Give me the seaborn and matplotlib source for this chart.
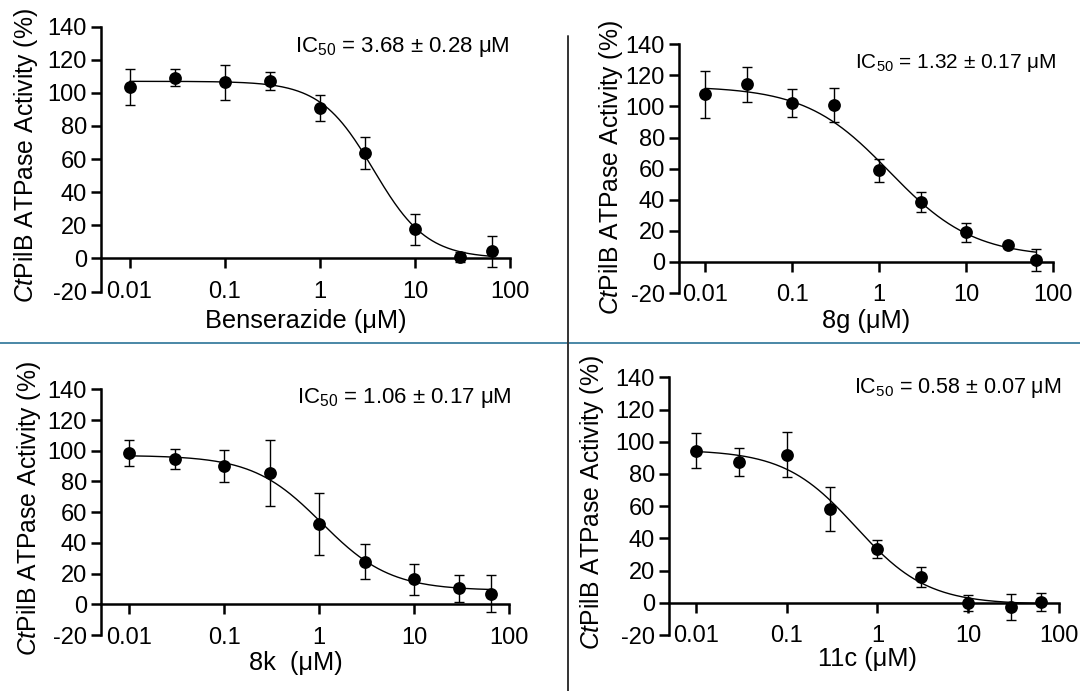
import matplotlib
matplotlib.use("Agg")
import numpy as np
import pandas as pd
import matplotlib.pyplot as plt
import seaborn as sns
from matplotlib.lines import Line2D
from matplotlib.ticker import FixedLocator, FixedFormatter, NullLocator

# ------------------------------------------------------------
# Data
# ------------------------------------------------------------
conc_um = [0.01, 0.03, 0.1, 0.3, 1, 3, 10, 30, 64]

benserazide_mean = [103.5, 109.3, 106.5, 107.0, 91.0, 63.8, 17.6, 0.6, 4.2]
benserazide_sem = [11.0, 5.0, 10.5, 5.5, 8.0, 9.7, 9.5, 3.0, 9.5]

cpd_8g_mean = [107.8, 114.2, 102.0, 101.0, 59.0, 38.7, 19.0, 10.6, 1.0]
cpd_8g_sem = [15.0, 11.0, 9.0, 11.0, 7.4, 6.5, 6.0, 1.0, 7.0]

cpd_8k_mean = [98.3, 94.6, 89.9, 85.3, 52.3, 27.8, 16.3, 10.4, 7.0]
cpd_8k_sem = [8.5, 6.5, 10.3, 21.5, 20.0, 11.6, 10.2, 8.6, 12.0]

cpd_11c_mean = [94.4, 87.3, 91.9, 58.4, 33.2, 16.1, 0.0, -2.5, 0.4]
cpd_11c_sem = [10.8, 8.5, 14.0, 13.6, 5.7, 6.2, 4.8, 8.2, 5.4]

# 4-parameter logistic fit parameters (top, bottom, IC50, Hill slope)
fit_top = [107.0, 113.0, 97.0, 95.0]
fit_bottom = [0.0, 3.0, 9.0, -1.0]
fit_ic50 = [3.68, 1.32, 1.06, 0.58]
fit_hill = [1.55, 0.9, 1.2, 1.1]

ic50_labels = [
    r"IC$_{50}$ = 3.68 ± 0.28 μM",
    r"IC$_{50}$ = 1.32 ± 0.17 μM",
    r"IC$_{50}$ = 1.06 ± 0.17 μM",
    r"IC$_{50}$ = 0.58 ± 0.07 μM",
]
x_labels = ["Benserazide (μM)", "8g (μM)", "8k  (μM)", "11c (μM)"]
x_ticks = [0.01, 0.1, 1, 10, 100]
x_tick_labels = ["0.01", "0.1", "1", "10", "100"]
y_ticks = [-20, 0, 20, 40, 60, 80, 100, 120, 140]

means = [benserazide_mean, cpd_8g_mean, cpd_8k_mean, cpd_11c_mean]
sems = [benserazide_sem, cpd_8g_sem, cpd_8k_sem, cpd_11c_sem]

# ------------------------------------------------------------
# Style
# ------------------------------------------------------------
sns.set_theme(style="white")
plt.rcParams["font.family"] = ["Liberation Sans", "DejaVu Sans"]
plt.rcParams["mathtext.fontset"] = "custom"
plt.rcParams["mathtext.rm"] = "Liberation Sans"
plt.rcParams["mathtext.it"] = "Liberation Sans:italic"
plt.rcParams["mathtext.bf"] = "Liberation Sans:bold"
plt.rcParams["axes.unicode_minus"] = False

W, H = 1080, 691
fig = plt.figure(figsize=(W / 100, H / 100), dpi=100)
fig.patch.set_facecolor("white")


def px_box(left, top, right, bottom):
    return [left / W, 1 - bottom / H, (right - left) / W, (bottom - top) / H]


def px(x, y):
    return x / W, 1 - y / H


# panel layout in pixels: axes box, ylabel centre, xlabel centre, IC50 text start
panels = [
    dict(box=(101, 26.7, 510, 291.5), ylab=(26, 156), xlab=(306, 321), ic=(295, 47), ic_fs=16),
    dict(box=(679, 44.3, 1053, 293), ylab=(611, 168), xlab=(866, 321), ic=(855, 63), ic_fs=15),
    dict(box=(101, 389.3, 509, 635), ylab=(29, 509), xlab=(296, 663), ic=(297, 398), ic_fs=16),
    dict(box=(669, 377.3, 1058.6, 635), ylab=(592, 503), xlab=(867, 659), ic=(854, 388), ic_fs=15.5),
]

for i, p in enumerate(panels):
    ax = fig.add_axes(px_box(*p["box"]))
    ax.set_facecolor("white")

    df = pd.DataFrame({"conc": conc_um, "mean": means[i], "sem": sems[i]})

    # fitted dose-response curve
    xs = np.logspace(np.log10(conc_um[0]), np.log10(conc_um[-1]), 300)
    ys = fit_bottom[i] + (fit_top[i] - fit_bottom[i]) / (1 + (xs / fit_ic50[i]) ** fit_hill[i])
    curve = pd.DataFrame({"conc": xs, "fit": ys})
    sns.lineplot(data=curve, x="conc", y="fit", ax=ax, color="black", linewidth=1.0, zorder=2)

    ax.errorbar(df["conc"], df["mean"], yerr=df["sem"], fmt="none", ecolor="black",
                elinewidth=1.0, capsize=3.8, capthick=1.0, zorder=3)
    sns.scatterplot(data=df, x="conc", y="mean", ax=ax, color="black", s=85,
                    edgecolor="black", linewidth=0, zorder=4)

    ax.set_xscale("log")
    ax.set_xlim(10 ** -2.3, 100)
    ax.set_ylim(-20, 140)

    ax.xaxis.set_major_locator(FixedLocator(x_ticks))
    ax.xaxis.set_major_formatter(FixedFormatter(x_tick_labels))
    ax.xaxis.set_minor_locator(NullLocator())
    ax.yaxis.set_major_locator(FixedLocator(y_ticks))

    for side in ["top", "right"]:
        ax.spines[side].set_visible(False)
    ax.spines["bottom"].set_position(("data", 0))
    for side in ["left", "bottom"]:
        ax.spines[side].set_linewidth(1.8)
        ax.spines[side].set_color("black")

    ax.tick_params(axis="x", direction="out", length=7, width=1.8, pad=9,
                   labelsize=17, colors="black", bottom=True)
    ax.tick_params(axis="y", direction="out", length=7, width=1.8, pad=3,
                   labelsize=17, colors="black", left=True)
    ax.set_xlabel("")
    ax.set_ylabel("")
    ax.grid(False)

    fig.text(*px(*p["ylab"]), r"$\it{Ct}$PilB ATPase Activity (%)", rotation=90,
             ha="center", va="center", fontsize=17.8, color="black")
    fig.text(*px(*p["xlab"]), x_labels[i], ha="center", va="center",
             fontsize=18.3, color="black")
    fig.text(*px(*p["ic"]), ic50_labels[i], ha="left", va="center",
             fontsize=p["ic_fs"], color="black")

# panel separators
fig.add_artist(Line2D([0, 1], [1 - 343 / H, 1 - 343 / H], transform=fig.transFigure,
                      color="#4a87a6", linewidth=1.4))
fig.add_artist(Line2D([568 / W, 568 / W], [1 - 36 / H, 0], transform=fig.transFigure,
                      color="#333333", linewidth=1.4))

fig.savefig("out.png", dpi=100, facecolor="white")
plt.close(fig)
